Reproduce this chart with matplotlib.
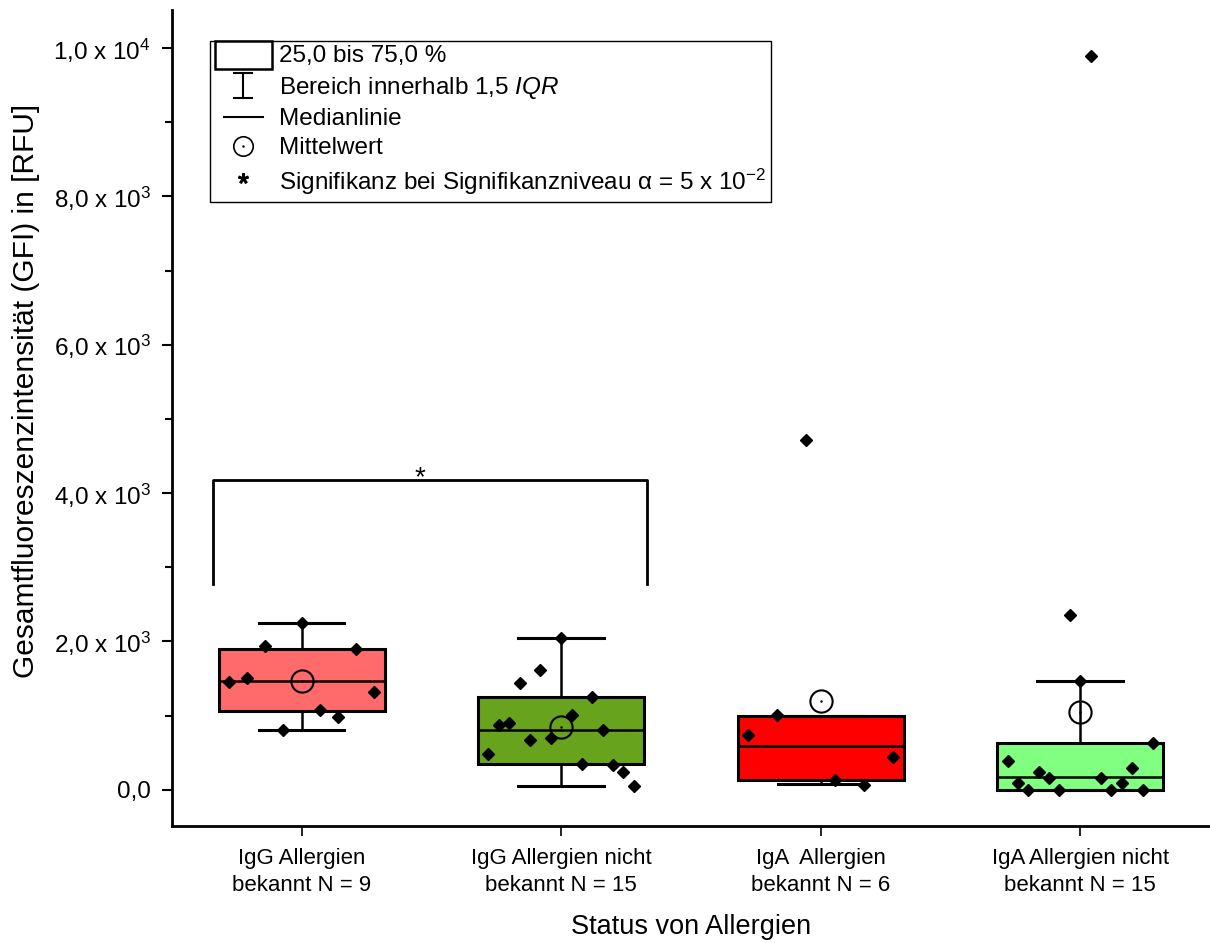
import matplotlib
matplotlib.use("Agg")
from matplotlib import pyplot as plt
from matplotlib.lines import Line2D
from matplotlib.patches import Rectangle
from matplotlib.legend_handler import HandlerBase
from matplotlib.ticker import FixedLocator, MultipleLocator, FuncFormatter
import numpy as np

plt.rcParams['font.family'] = ['Liberation Sans', 'DejaVu Sans']
plt.rcParams['mathtext.fontset'] = 'custom'
plt.rcParams['mathtext.rm'] = 'Liberation Sans'
plt.rcParams['mathtext.it'] = 'Liberation Sans:italic'

# data
groups = ["IgG Allergien\nbekannt N = 9", "IgG Allergien nicht\nbekannt N = 15",
          "IgA  Allergien\nbekannt N = 6", "IgA Allergien nicht\nbekannt N = 15"]
colors = ["#FF6B6B", "#68A31E", "#FF0000", "#80FF80"]

q1 = [1065, 346, 135, 0]
med = [1465, 809, 593, 166]
q3 = [1901, 1249, 998, 629]
whislo = [805, 54, 77, 0]
whishi = [2247, 2045, 998, 1469]
means = [1473, 845, 1190, 1047]

g1 = [1456, 1506, 1941, 805, 2247, 1078, 980, 1897, 1317]
g2 = [485, 869, 894, 1433, 665, 1608, 692, 2045, 1011, 346, 1251, 805, 330, 239, 54]
g3 = [735, 1002, 4718, 135, 67, 441]
g4 = [382, 90, 0, 233, 162, 0, 2350, 1469, 9898, 162, 0, 90, 290, 0, 629]
points = [g1, g2, g3, g4]

sig_pair = (1, 2)
sig_top = 4180
sig_bottom = 2770

fig = plt.figure(figsize=(12.1, 9.43), dpi=100)
ax = fig.add_axes([0.142, 0.124, 0.858, 0.865])

pos = np.arange(1, len(groups) + 1)
stats = []
for i in range(len(groups)):
    stats.append(dict(med=med[i], q1=q1[i], q3=q3[i], whislo=whislo[i],
                      whishi=whishi[i], mean=means[i], fliers=[]))

bp = ax.bxp(stats, positions=pos, widths=0.64, capwidths=0.33, patch_artist=True,
            showmeans=False, showfliers=False,
            boxprops=dict(linewidth=2.2, edgecolor='black'),
            medianprops=dict(color='black', linewidth=1.8),
            whiskerprops=dict(color='black', linewidth=1.8),
            capprops=dict(color='black', linewidth=2.2))
for patch, c in zip(bp['boxes'], colors):
    patch.set_facecolor(c)

# data points, spread evenly around the box centre
for i, vals in enumerate(points):
    x = pos[i] + np.linspace(-0.28, 0.28, len(vals))
    ax.plot(x, vals, 'D', color='black', ms=6.5, zorder=4)

# mean
ax.plot(pos, means, 'o', mfc='none', mec='black', mew=1.5, ms=16, zorder=5)
ax.plot(pos, means, '.', color='black', ms=1.5, zorder=5)

# significance bracket
xl = sig_pair[0] - 0.34
xr = sig_pair[1] + 0.33
ax.plot([xl, xl, xr, xr], [sig_bottom, sig_top, sig_top, sig_bottom], color='black', lw=2)
ax.text(1.455, sig_top - 150, '*', ha='center', va='bottom', fontsize=20)

ax.set_xlim(0.5, 4.5)
ax.set_ylim(-490, 10510)
ax.set_xticks(pos)
ax.set_xticklabels(groups, fontsize=16, linespacing=1.35)
ax.yaxis.set_major_locator(FixedLocator([0, 2000, 4000, 6000, 8000, 10000]))
ax.yaxis.set_minor_locator(MultipleLocator(1000))


def fmt(v, p):
    if v == 0:
        return "0,0"
    e = int(np.floor(np.log10(abs(v))))
    m = v / 10 ** e
    return ("%.1f" % m).replace(".", ",") + " x 10$^{%d}$" % e


ax.yaxis.set_major_formatter(FuncFormatter(fmt))
ax.tick_params(axis='y', which='major', labelsize=17.5, length=7, width=1.5, pad=8)
ax.tick_params(axis='y', which='minor', length=5, width=1.5)
ax.tick_params(axis='x', length=7, width=1.2, pad=9)
for s in ['top', 'right']:
    ax.spines[s].set_visible(False)
for s in ['left', 'bottom']:
    ax.spines[s].set_linewidth(2)

ax.set_ylabel("Gesamtfluoreszenzintensität (GFI) in [RFU]", fontsize=21.5)
ax.yaxis.set_label_coords(-0.127, 0.533)
ax.set_xlabel("Status von Allergien", fontsize=19.5, labelpad=13)


class SymbolHandler(HandlerBase):
    def __init__(self, kind):
        super().__init__()
        self.kind = kind

    def create_artists(self, legend, orig_handle, xdescent, ydescent, width, height, fontsize, trans):
        cx = width / 2 - xdescent
        cy = height / 2 - ydescent
        arts = []
        if self.kind == 'box':
            arts.append(Rectangle((-xdescent, cy - 0.6 * fontsize), width, 1.15 * fontsize,
                                  facecolor='white', edgecolor='black', lw=1.8))
        elif self.kind == 'whisker':
            h = 0.52 * fontsize
            w = 0.36 * fontsize
            arts.append(Line2D([cx, cx], [cy - h, cy + h], color='black', lw=1.5))
            arts.append(Line2D([cx - w, cx + w], [cy - h, cy - h], color='black', lw=1.5))
            arts.append(Line2D([cx - w, cx + w], [cy + h, cy + h], color='black', lw=1.5))
        elif self.kind == 'median':
            arts.append(Line2D([cx - 0.8 * fontsize, cx + 0.8 * fontsize], [cy, cy], color='black', lw=1.5))
        elif self.kind == 'mean':
            arts.append(Line2D([cx], [cy], marker='o', mfc='none', mec='black', mew=1.2, ms=14))
            arts.append(Line2D([cx], [cy], marker='.', color='black', ms=1.5))
        elif self.kind == 'star':
            arts.append(Line2D([cx], [cy + 0.15 * fontsize], marker='$*$', color='black', ms=7))
        for a in arts:
            a.set_transform(trans)
        return arts


kinds = ['box', 'whisker', 'median', 'mean', 'star']
labels = ["25,0 bis 75,0 %", r"Bereich innerhalb 1,5 $\mathit{IQR}$", "Medianlinie", "Mittelwert",
          r"Signifikanz bei Signifikanzniveau α = 5 x 10$^{-2}$"]
handles = [Rectangle((0, 0), 1, 1, label=k) for k in kinds]
leg = ax.legend(handles, labels, handler_map={h: SymbolHandler(k) for h, k in zip(handles, kinds)},
                loc='upper left', bbox_to_anchor=(0.0366, 0.963), borderaxespad=0,
                fontsize=17.5, frameon=True, fancybox=False, edgecolor='black', framealpha=1,
                handlelength=2.35, handletextpad=0.3, labelspacing=0.3, borderpad=0.2)
leg.get_frame().set_linewidth(1)

fig.savefig("out.png", dpi=100)
